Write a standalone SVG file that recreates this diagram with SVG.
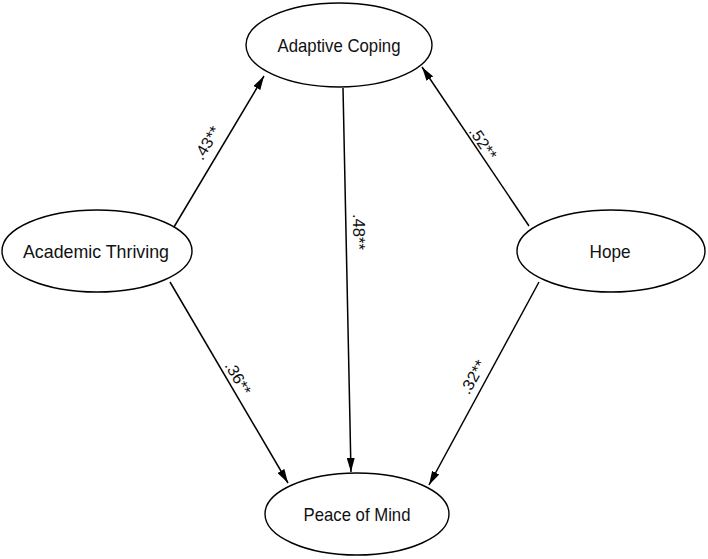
<svg xmlns="http://www.w3.org/2000/svg" width="708" height="559" viewBox="0 0 708 559">
<style>
.node ellipse{fill:#fff;stroke:#000;stroke-width:1.4}
.node text{font-family:"Liberation Sans",Arial,sans-serif;font-size:19px;fill:#111;text-anchor:middle}
.edges line{stroke:#000;stroke-width:1.5;marker-end:url(#ah)}
.lbl{font-family:"Liberation Sans",Arial,sans-serif;font-size:16px;fill:#111;text-anchor:middle;dominant-baseline:central}
</style>
<defs>
<marker id="ah" viewBox="0 0 14 8" refX="14" refY="4" markerWidth="14" markerHeight="8" markerUnits="userSpaceOnUse" orient="auto">
<path d="M0,0 L14,4 L0,8 Z" fill="#000"/>
</marker>
</defs>
<rect width="708" height="559" fill="#fff"/>
<g class="edges">
<line x1="174" y1="227" x2="264" y2="76"/>
<line x1="529" y1="226" x2="422" y2="67"/>
<line x1="343" y1="88" x2="351" y2="472"/>
<line x1="170" y1="282" x2="288" y2="483"/>
<line x1="539" y1="282" x2="429" y2="485"/>
<text class="lbl" transform="translate(207,143) rotate(-59)" textLength="36" lengthAdjust="spacingAndGlyphs">.43**</text>
<text class="lbl" transform="translate(483,143) rotate(56)" textLength="36" lengthAdjust="spacingAndGlyphs">.52**</text>
<text class="lbl" transform="translate(358,232) rotate(90)" textLength="36" lengthAdjust="spacingAndGlyphs">.48**</text>
<text class="lbl" transform="translate(238,378) rotate(60)" textLength="36" lengthAdjust="spacingAndGlyphs">.36**</text>
<text class="lbl" transform="translate(473,377) rotate(-61)" textLength="36" lengthAdjust="spacingAndGlyphs">.32**</text>
</g>
<g id="adaptive" class="node"><ellipse cx="339" cy="45" rx="93" ry="42"/><text x="339" y="52" textLength="123" lengthAdjust="spacingAndGlyphs">Adaptive Coping</text></g>
<g id="academic" class="node"><ellipse cx="97" cy="251" rx="95" ry="41"/><text x="96" y="258" textLength="146" lengthAdjust="spacingAndGlyphs">Academic Thriving</text></g>
<g id="hope" class="node"><ellipse cx="611" cy="251" rx="94" ry="41"/><text x="610" y="258" textLength="41" lengthAdjust="spacingAndGlyphs">Hope</text></g>
<g id="peace" class="node"><ellipse cx="357" cy="514" rx="92" ry="41"/><text x="357" y="521" textLength="107" lengthAdjust="spacingAndGlyphs">Peace of Mind</text></g>
</svg>
